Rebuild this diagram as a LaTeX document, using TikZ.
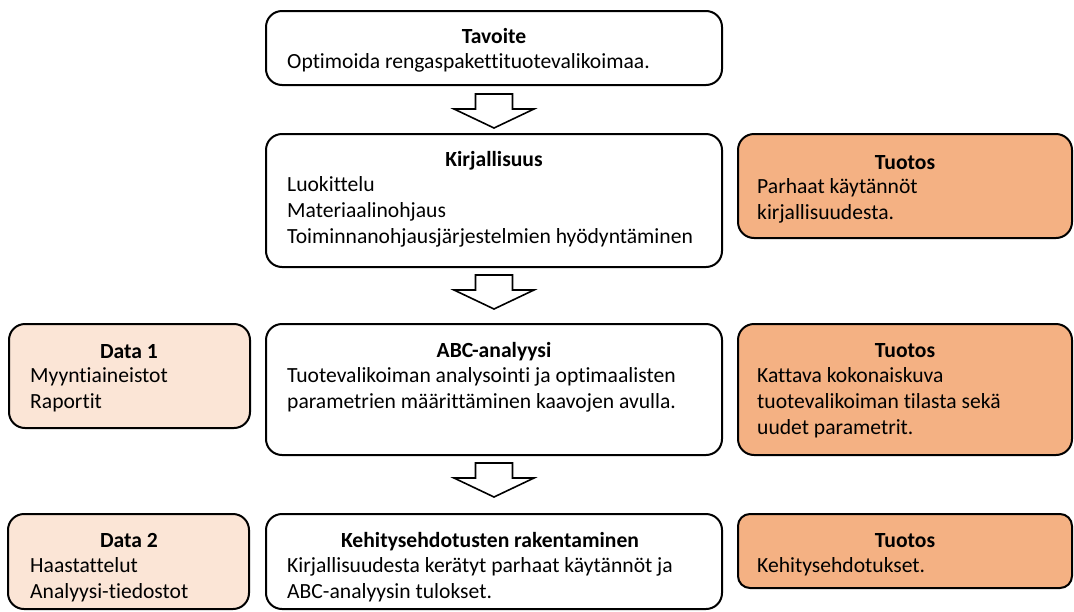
\documentclass[tikz,border=0pt]{standalone}
\usepackage{fontspec}
\setmainfont{Carlito}[Ligatures=NoCommon]
\usetikzlibrary{calc}
\definecolor{orangeA}{HTML}{F4B183}
\definecolor{peach}{HTML}{FBE5D6}
\begin{document}
\begin{tikzpicture}[x=1pt,y=-1pt,
 box/.style={draw=black, line width=2pt, rounded corners=16pt, inner sep=0pt, outer sep=0pt},
 whitebox/.style={box, fill=white, minimum width=456pt},
 outbox/.style={box, fill=orangeA, minimum width=334pt},
 databox/.style={box, fill=peach, minimum width=241pt},
 ttl/.style={font=\fontsize{21.6}{26}\selectfont\bfseries, anchor=base, inner sep=0pt},
 body/.style={font=\fontsize{21.6}{26}\selectfont, anchor=north west, align=left, inner sep=0pt},
 blockarr/.pic={\draw[line width=1.6pt, line join=miter, fill=white] (-18.5,0) -- (18.5,0) -- (18.5,15) -- (40,15) -- (0,34) -- (-40,15) -- (-18.5,15) -- cycle;}
]
\useasboundingbox (0,0) rectangle (1074,611);

% boxes
\node[whitebox, minimum height=74pt] (tav) at (494,48) {};
\node[whitebox, minimum height=133pt] (kir) at (494,200.5) {};
\node[outbox, minimum height=104pt] (tu1) at (905,186) {};
\node[databox, minimum height=104pt] (d1) at (129.5,376) {};
\node[whitebox, minimum height=131pt] (abc) at (494,389.5) {};
\node[outbox, minimum height=131pt] (tu2) at (905,389.5) {};
\node[databox, minimum height=95pt] (d2) at (128.5,561.5) {};
\node[whitebox, minimum height=95pt] (keh) at (494,561.5) {};
\node[outbox, minimum height=74pt, rounded corners=12pt] (tu3) at (905,551) {};

% block arrows
\pic at ($(tav.south)+(0,9)$) {blockarr};
\pic at ($(kir.south)+(0,8)$) {blockarr};
\pic at ($(abc.south)+(0,8)$) {blockarr};

% texts (strut height = 18.2)
\node[ttl] (tavT) at (494,43) {Tavoite};
\node[body] (tavB) at (287,50) {\strut Optimoida rengaspakettituotevalikoimaa.};

\node[ttl] (kirT) at (494,166) {Kirjallisuus};
\node[body] (kirB) at (287,173) {\strut Luokittelu\\Materiaalinohjaus\\Toiminnanohjausjärjestelmien hyödyntäminen};

\node[ttl] (tu1T) at (905,169) {Tuotos};
\node[body] (tu1B) at (757,175) {\strut Parhaat käytännöt\\kirjallisuudesta.};

\node[ttl] (d1T) at (129,358) {Data 1};
\node[body] (d1B) at (30,364) {\strut Myyntiaineistot\\Raportit};

\node[ttl] (abcT) at (494,357) {ABC-analyysi};
\node[body] (abcB) at (287,364) {\strut Tuotevalikoiman analysointi ja optimaalisten\\parametrien määrittäminen kaavojen avulla.};

\node[ttl] (tu2T) at (905,357) {Tuotos};
\node[body] (tu2B) at (757,364) {\strut Kattava kokonaiskuva\\tuotevalikoiman tilasta sekä\\uudet parametrit.};

\node[ttl] (d2T) at (129,547) {Data 2};
\node[body] (d2B) at (30,554) {\strut Haastattelut\\Analyysi-tiedostot};

\node[ttl] (kehT) at (490,547) {Kehitysehdotusten rakentaminen};
\node[body] (kehB) at (287,554) {\strut Kirjallisuudesta kerätyt parhaat käytännöt ja\\ABC-analyysin tulokset.};

\node[ttl] (tu3T) at (905,547) {Tuotos};
\node[body] (tu3B) at (757,554) {\strut Kehitysehdotukset.};
\end{tikzpicture}
\end{document}
